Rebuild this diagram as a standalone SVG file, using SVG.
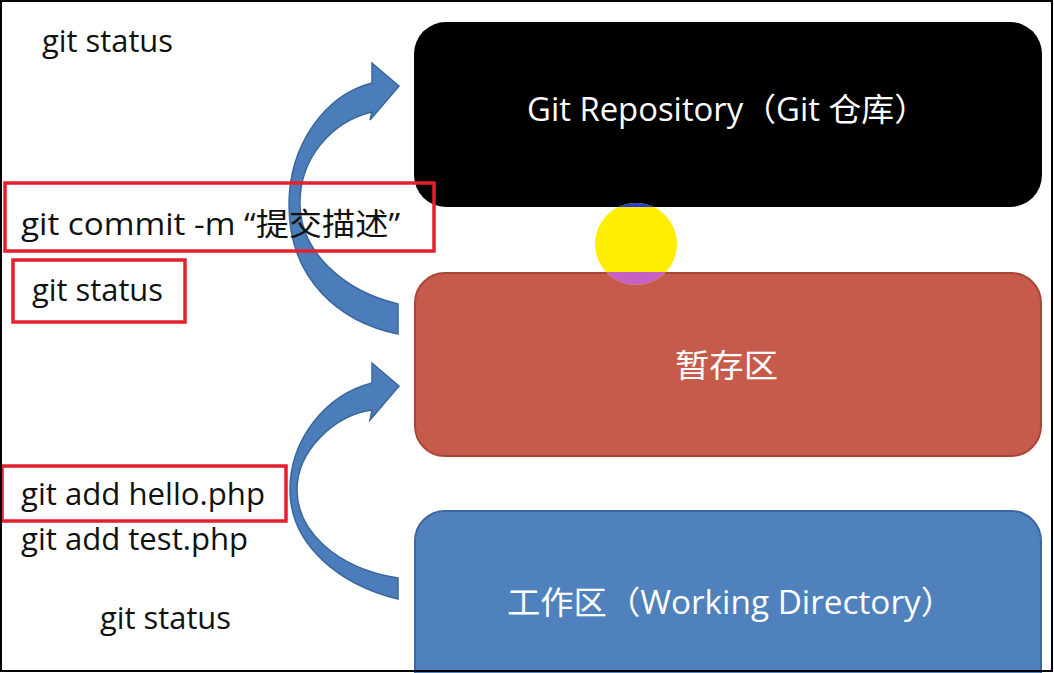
<svg xmlns="http://www.w3.org/2000/svg" width="1054" height="673" viewBox="0 0 1054 673">
<style>
.cmd{font-family:"Open Sans","Noto Sans CJK SC",sans-serif;font-size:31px;fill:#111}
.lbl{font-family:"Open Sans","Noto Sans CJK SC",sans-serif;font-size:32px;fill:#fff}
.hl{fill:none;stroke:#e3202b;stroke-width:3.5}
.arrow{fill:#4a7dba;stroke:#3b679e;stroke-width:1.5}
</style>
<defs>
<clipPath id="topcap"><rect x="580" y="190" width="120" height="17"/></clipPath>
<clipPath id="botcap"><rect x="580" y="272" width="120" height="20"/></clipPath>
</defs>
<rect x="0" y="0" width="1054" height="673" fill="#fff"/>
<g id="repo">
<rect x="414" y="22" width="628" height="185" rx="32" fill="#000"/>
<text class="lbl" x="527" y="121" textLength="400" lengthAdjust="spacingAndGlyphs">Git Repository（Git 仓库）</text>
</g>
<g id="stage">
<rect x="415" y="273" width="626" height="183" rx="30" fill="#c75b4b" stroke="#a9463a" stroke-width="2"/>
<text class="lbl" x="675" y="377" font-size="35" textLength="103" lengthAdjust="spacingAndGlyphs">暂存区</text>
</g>
<g id="work">
<rect x="415" y="511" width="626" height="200" rx="30" fill="#4f81bd" stroke="#3c679c" stroke-width="2"/>
<text class="lbl" x="507" y="614" textLength="447" lengthAdjust="spacingAndGlyphs">工作区（Working Directory）</text>
</g>
<g id="marker-dot">
<circle cx="636" cy="244" r="41" fill="#ffee00"/>
<circle cx="636" cy="244" r="41" fill="#2a3ad0" clip-path="url(#topcap)"/>
<circle cx="636" cy="244" r="41" fill="#c660c4" clip-path="url(#botcap)"/>
</g>
<g id="connectors">
<path class="arrow" d="M398,334 C340,322 289,280 289,205 C289,145 325,95 372,83 L372,63 L399,86 L370,120 L372,112 C330,122 299,160 300,205 C301,250 340,290 398,304 Z"/>
<path class="arrow" d="M398,599 C340,585 290,545 290,490 C290,440 325,395 372,383 L372,363 L399,386 L370,420 L372,410 C335,415 297,450 297,490 C297,530 335,568 398,578 Z"/>
</g>
<g id="commands">
<text class="cmd" x="42" y="52" textLength="131" lengthAdjust="spacingAndGlyphs">git status</text>
<rect class="hl" x="5" y="183" width="429" height="68"/>
<text class="cmd" x="21" y="235" textLength="379" lengthAdjust="spacingAndGlyphs">git commit -m “提交描述”</text>
<rect class="hl" x="13" y="260" width="172" height="62"/>
<text class="cmd" x="32" y="301" textLength="131" lengthAdjust="spacingAndGlyphs">git status</text>
<rect class="hl" x="2" y="466" width="284" height="55"/>
<text class="cmd" x="21" y="505" textLength="244" lengthAdjust="spacingAndGlyphs">git add hello.php</text>
<text class="cmd" x="21" y="550" textLength="227" lengthAdjust="spacingAndGlyphs">git add test.php</text>
<text class="cmd" x="100" y="629" textLength="131" lengthAdjust="spacingAndGlyphs">git status</text>
</g>
<rect x="1" y="1" width="1051" height="670" fill="none" stroke="#000" stroke-width="2"/>
</svg>
